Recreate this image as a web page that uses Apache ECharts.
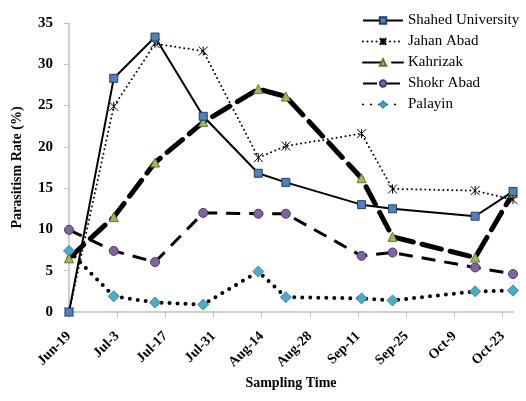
<!DOCTYPE html>
<html><head><meta charset="utf-8">
<script src="https://cdn.jsdelivr.net/npm/echarts@6/dist/echarts.min.js"></script>
<style>html,body{margin:0;padding:0;background:#fff}#c{width:526px;height:401px}</style>
</head><body><div id="c"></div>
<script>
// Sampling dates (month-day); x positions are day offsets computed from these
const startDate = '06-19';
const sampleDates = ['06-19','07-02','07-14','07-28','08-13','08-21','09-12','09-21','10-15','10-26'];
const tickLabels = ['Jun-19','Jul-3','Jul-17','Jul-31','Aug-14','Aug-28','Sep-11','Sep-25','Oct-9','Oct-23'];
const seriesNames = ['Shahed University','Jahan Abad','Kahrizak','Shokr Abad','Palayin'];
const shahed  = [0, 28.3, 33.3, 23.7, 16.8, 15.7, 13.0, 12.5, 11.6, 14.6];
const jahan   = [0, 24.9, 32.5, 31.6, 18.7, 20.1, 21.6, 14.9, 14.7, 13.6];
const kahrizak= [6.5, 11.5, 18.1, 23.0, 27.0, 26.1, 16.2, 9.1, 6.6, 14.4];
const shokr   = [9.95, 7.4, 6.05, 12.0, 11.9, 11.9, 6.8, 7.2, 5.4, 4.6];
const palayin = [7.4, 1.9, 1.15, 0.9, 4.9, 1.8, 1.65, 1.4, 2.5, 2.6];

function dayOffset(md){
  const [m,d] = md.split('-').map(Number);
  const [m0,d0] = startDate.split('-').map(Number);
  return Math.round((Date.UTC(2011,m-1,d)-Date.UTC(2011,m0-1,d0))/86400000);
}
const xs = sampleDates.map(dayOffset);
const pts = arr => arr.map((v,i)=>[xs[i], v]);

const font = '"Liberation Serif","Times New Roman",serif';
const asterisk = 'path://M0,0L10,10M10,0L0,10M5,0L5,10';

const chart = echarts.init(document.getElementById('c'));
chart.setOption({
  animation:false,
  backgroundColor:'#fff',
  textStyle:{fontFamily:font},
  grid:{left:69, right:13, top:23, bottom:89},
  legend:{
    orient:'vertical', left:357, top:8, itemWidth:40, itemHeight:8, itemGap:6,
    textStyle:{fontFamily:font, fontSize:15, color:'#000'},
    data:seriesNames
  },
  xAxis:{
    type:'value', min:0, max:xs[xs.length-1], interval:14,
    axisLine:{lineStyle:{color:'#BFBFBF', width:1.5}},
    axisTick:{show:true, length:5, lineStyle:{color:'#BFBFBF'}},
    splitLine:{show:false},
    axisLabel:{rotate:45, margin:22, fontFamily:font, fontSize:14, fontWeight:'bold', color:'#000',
      formatter:v=>tickLabels[Math.round(v/14)] || '', showMaxLabel:false},
    name:'Sampling Time', nameLocation:'middle', nameGap:62,
    nameTextStyle:{fontFamily:font, fontSize:14, fontWeight:'bold', color:'#000'}
  },
  yAxis:{
    type:'value', min:0, max:35, interval:5,
    axisLine:{show:true, lineStyle:{color:'#BFBFBF', width:1.5}},
    axisTick:{show:true, length:5, lineStyle:{color:'#BFBFBF'}},
    splitLine:{show:false},
    axisLabel:{margin:16, fontFamily:font, fontSize:15, fontWeight:'bold', color:'#000'},
    name:'Parasitism Rate (%)', nameLocation:'middle', nameGap:45, nameRotate:90,
    nameTextStyle:{fontFamily:font, fontSize:14, fontWeight:'bold', color:'#000'}
  },
  series:[
    {name:seriesNames[4], type:'line', data:pts(palayin), symbol:'diamond', symbolSize:11,
      lineStyle:{color:'#000', width:4, type:[0,8], cap:'round'},
      itemStyle:{color:'#4BACC6', borderColor:'#3A8FA6', borderWidth:1}},
    {name:seriesNames[3], type:'line', data:pts(shokr), symbol:'circle', symbolSize:9,
      lineStyle:{color:'#000', width:3, type:[14,9]},
      itemStyle:{color:'#8064A2', borderColor:'#4E3A6A', borderWidth:1}},
    {name:seriesNames[2], type:'line', data:pts(kahrizak), symbol:'triangle', symbolSize:9,
      lineStyle:{color:'#000', width:5, type:[20,9], cap:'round'},
      itemStyle:{color:'#9BBB59', borderColor:'#5E7A2C', borderWidth:1}},
    {name:seriesNames[1], type:'line', data:pts(jahan), symbol:asterisk, symbolSize:9,
      lineStyle:{color:'#000', width:2, type:[0,4.5], cap:'round'},
      itemStyle:{color:'#000', borderColor:'#000', borderWidth:1}},
    {name:seriesNames[0], type:'line', data:pts(shahed), symbol:'rect', symbolSize:8,
      lineStyle:{color:'#000', width:2},
      itemStyle:{color:'#4F81BD', borderColor:'#1F3F6A', borderWidth:1}}
  ]
});
</script></body></html>
